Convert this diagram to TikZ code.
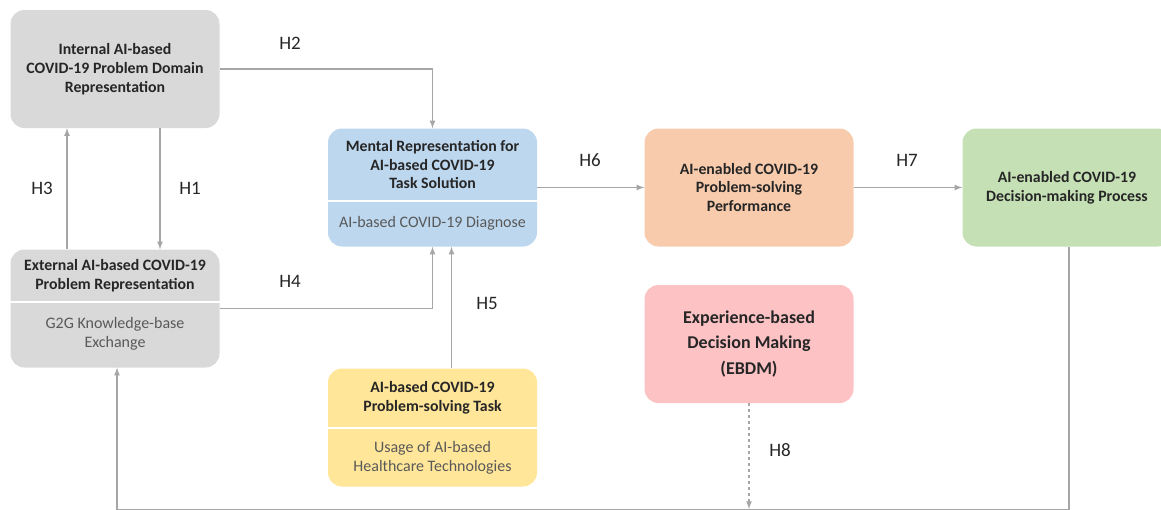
\documentclass[tikz,border=0pt]{standalone}
\usepackage{fontspec}
\setmainfont{Carlito}
\usetikzlibrary{arrows}
\definecolor{boxgray}{HTML}{D9D9D9}
\definecolor{boxblue}{HTML}{BDD7EE}
\definecolor{boxyellow}{HTML}{FFE699}
\definecolor{boxorange}{HTML}{F8CBAD}
\definecolor{boxgreen}{HTML}{C5E0B4}
\definecolor{boxpink}{HTML}{FCC2C4}
\definecolor{linkgray}{HTML}{A6A6A6}
\begin{document}
\begin{tikzpicture}[
      x=1pt,
      y=-1pt,
      box/.style={rounded corners=14pt, minimum width=209pt,
          minimum height=118pt, inner sep=0pt},
      head/.style={font=\bfseries\fontsize{15.8}{18.8}\selectfont,
          align=center, text=black!85},
      sub/.style={font=\fontsize{16}{18.8}\selectfont,
          align=center, text=black!65},
      hyp/.style={font=\fontsize{19}{22}\selectfont, text=black!85},
      link/.style={draw=linkgray, line width=1.6pt, -latex}
    ]
    \useasboundingbox (0,0) rectangle (1161,509);

    % boxes
    \node[box, fill=boxgray, head] (int) at (115,69)
    {Internal AI-based\\COVID-19 Problem Domain\\Representation};
    \node[box, fill=boxgray] (ext) at (115,308.5) {};
    \node[box, fill=boxblue] (men) at (432.5,187.5) {};
    \node[box, fill=boxyellow] (task) at (432.5,427.5) {};
    \node[box, fill=boxorange, head] (perf) at (749,187.5)
    {AI-enabled COVID-19\\Problem-solving\\Performance};
    \node[box, fill=boxgreen, head] (dec) at (1067,187.5)
    {AI-enabled COVID-19\\Decision-making Process};
    \node[box, fill=boxpink, head,
      font=\bfseries\fontsize{18}{25.5}\selectfont] (ebdm) at (749,344)
    {Experience-based\\Decision Making\\(EBDM)};

    % two-part boxes
    \draw[white, line width=1.5pt] (ext.west |- 0,302) -- (ext.east |- 0,302);
    \draw[white, line width=1.5pt] (men.west |- 0,201) -- (men.east |- 0,201);
    \draw[white, line width=1.5pt] (task.west |- 0,428) -- (task.east |- 0,428);
    \node[head] (exthead) at (115,276)
    {External AI-based COVID-19\\Problem Representation};
    \node[sub] (extsub) at (115,334) {G2G Knowledge-base\\Exchange};
    \node[head] (menhead) at (432.5,164.5)
    {Mental Representation for\\AI-based COVID-19\\Task Solution};
    \node[sub] (mensub) at (432.5,223) {AI-based COVID-19 Diagnose};
    \node[head] (taskhead) at (432.5,398)
    {AI-based COVID-19\\Problem-solving Task};
    \node[sub] (tasksub) at (432.5,458)
    {Usage of AI-based\\Healthcare Technologies};

    % hypotheses
    \draw[link] (int.east) -| (men.north);
    \draw[link] ([xshift=45pt]int.south) -- ([xshift=45pt]ext.north);
    \draw[link] ([xshift=-48pt]ext.north) -- ([xshift=-48pt]int.south);
    \draw[link] (ext.east) -| (men.south);
    \draw[link] ([xshift=19pt]task.north) -- ([xshift=19pt]men.south);
    \draw[link] (men) -- (perf);
    \draw[link] (perf) -- (dec);
    \coordinate (h8end) at (749,509);
    \draw[link, dashed] (ebdm.south) -- (h8end);
    \coordinate (loopr) at (1069,509.5);
    \coordinate (loopl) at (117,509.5);
    \draw[link] ([xshift=2pt]dec.south) -- (loopr) -- (loopl)
    -- ([xshift=2pt]ext.south);

    \node[hyp] (h1) at (190,188) {H1};
    \node[hyp] (h2) at (290,43) {H2};
    \node[hyp] (h3) at (42,188) {H3};
    \node[hyp] (h4) at (290,281) {H4};
    \node[hyp] (h5) at (487,303) {H5};
    \node[hyp] (h6) at (590,160) {H6};
    \node[hyp] (h7) at (907,160) {H7};
    \node[hyp] (h8) at (780,450) {H8};
  \end{tikzpicture}
\end{document}
